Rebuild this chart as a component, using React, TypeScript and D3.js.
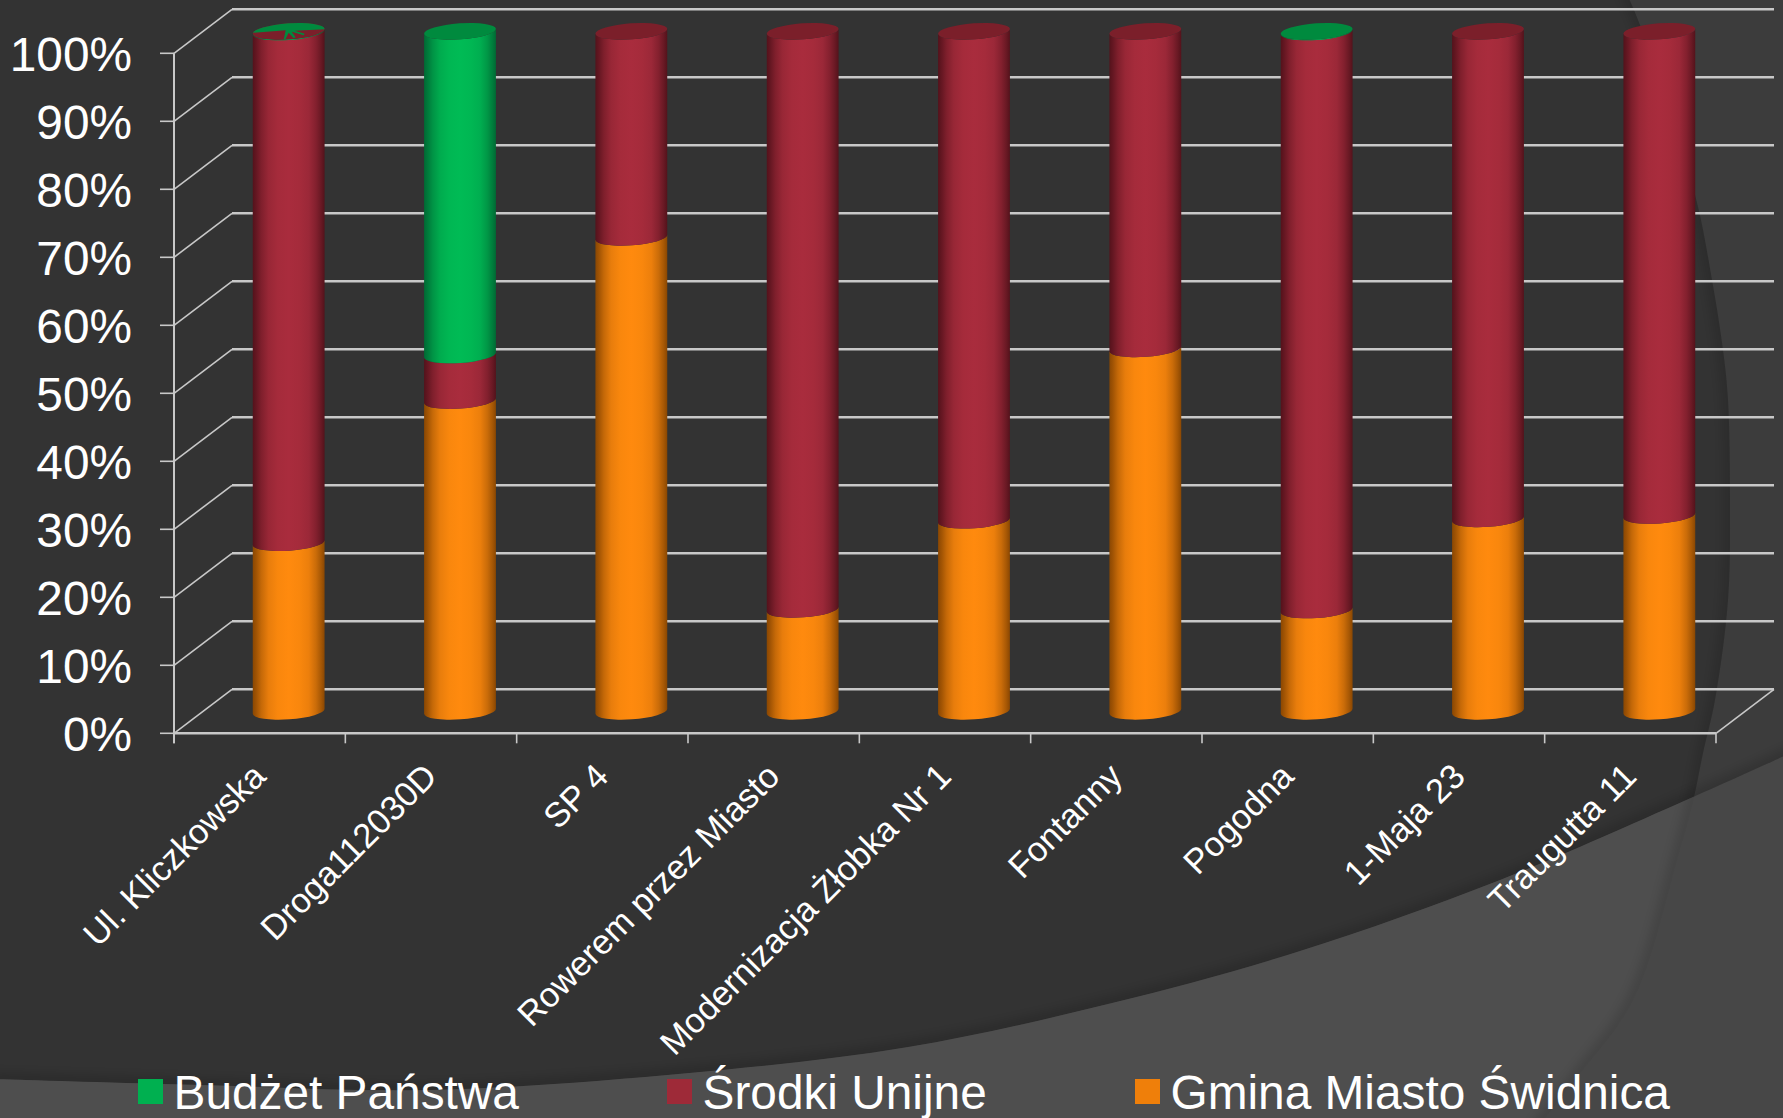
import React, { useEffect } from "react";
import * as d3 from "d3";

const categories = ["Ul. Kliczkowska", "Droga112030D", "SP 4", "Rowerem przez Miasto", "Modernizacja Żłobka Nr 1", "Fontanny", "Pogodna", "1-Maja 23", "Traugutta 11"];
const gminaMiasto = [24.8, 45.7, 69.7, 15, 28.1, 53.3, 14.9, 28.3, 28.8];
const srodkiUnijne = [75.1, 6.7, 30.3, 85, 71.9, 46.7, 85, 71.7, 71.2];
const budzetPanstwa = [0.1, 47.6, 0, 0, 0, 0, 0.1, 0, 0];
const yTicks = [0, 10, 20, 30, 40, 50, 60, 70, 80, 90, 100];
const seriesKeys = ["gmina", "unijne", "budzet"];
const legendLabels = ["Budżet Państwa", "Środki Unijne", "Gmina Miasto Świdnica"];

const W = 1783, H = 1118;
const FX0 = 174, FX1 = 1716, FY0 = 733.3, FY1 = 53.3;
const DX = 58, DY = -44;
const FONT = "'Liberation Sans', Arial, sans-serif";

const y = d3.scaleLinear().domain([0, 100]).range([FY0, FY1]);
const x = d3.scaleBand<string>().domain(categories).range([FX0, FX1]);
const barW = 72;
const RX = barW / 2, RY = 8, TILT = 4;
const tiltRad = (TILT * Math.PI) / 180;

const colors: Record<string, { dark: string; bright: string; top: string }> = {
  gmina: { dark: "#8a4702", bright: "#ff8a0e", top: "#c96f08" },
  unijne: { dark: "#54121b", bright: "#a92c3d", top: "#7b1f2a" },
  budzet: { dark: "#006a34", bright: "#00bb55", top: "#008a3e" },
};
const legendColors = ["#00b050", "#9e2a38", "#ef7f0a"];
// how far each position across the cylinder sits from the dark edge colour to the bright centre
const shadeStops: [number, number][] = [[0, 0], [0.05, 0.2], [0.12, 0.5], [0.22, 0.8], [0.35, 0.95], [0.5, 1], [0.65, 0.95], [0.78, 0.84], [0.88, 0.55], [0.95, 0.25], [1, 0]];

const rows = categories.map((c, i) => ({ c, gmina: gminaMiasto[i], unijne: srodkiUnijne[i], budzet: budzetPanstwa[i] }));
const stacked = d3.stack<any>().keys(seriesKeys)(rows);

const cx = (c: string) => x(c)! + x.bandwidth() / 2 + DX / 2;
const cy = (v: number) => y(v) + DY / 2;

function segment(c: string, v0: number, v1: number) {
  const X = cx(c), Y0 = cy(v0), Y1 = cy(v1);
  const ax = RX * Math.cos(tiltRad), ay = RX * Math.sin(tiltRad);
  return `M${X - ax},${Y0 + ay} A${RX},${RY} ${-TILT} 0 0 ${X + ax},${Y0 - ay} L${X + ax},${Y1 - ay} A${RX},${RY} ${-TILT} 0 1 ${X - ax},${Y1 + ay} Z`;
}

// decorative background outlines
const arcRight: [number, number][] = [[1625, -10], [1640, 25], [1695, 195], [1712, 280], [1723, 350], [1728, 400], [1730, 500], [1728, 600], [1715, 700], [1703, 753], [1694, 797], [1677, 860], [1633, 1000], [1577, 1077], [1535, 1130]];
const arcBottom: [number, number][] = [[-10, 1079], [200, 1085], [430, 1090], [689, 1073], [908, 1047], [1112, 1003], [1300, 951], [1500, 880], [1693, 797], [1793, 752]];
const line = d3.line().curve(d3.curveCatmullRom.alpha(0.5));
const rightD = line(arcRight)!;
const bottomD = line(arcBottom)!;
const leftOfRight = `${rightD} L-10,1130 L-10,-10 Z`;
const aboveBottom = `${bottomD} L1793,-10 L-10,-10 Z`;

const glint = (bx: number, by: number) =>
  `M${bx - 37},${by + 1.5} L${bx - 3},${by - 1} L${bx - 5},${by + 8.5} L${bx - 3.5},${by + 8.5} L${bx},${by + 1.5} L${bx + 5},${by + 7} L${bx + 7},${by + 6} L${bx + 3},${by + 0.5} L${bx + 15},${by + 4} L${bx + 16},${by + 2.5} L${bx + 6},${by - 0.5} L${bx + 36},${by - 2} L${bx + 40},${by - 14} L${bx - 40},${by - 14} Z`;

export default function App() {
  useEffect(() => {
    document.body.style.margin = "0";
    document.body.style.background = "#333";
  }, []);
  return (
    <svg width={W} height={H} viewBox={`0 0 ${W} ${H}`} style={{ display: "block" }} fontFamily={FONT}>
      <defs>
        {seriesKeys.map((k) => (
          <linearGradient key={k} id={`g-${k}`} x1="0" x2="1" y1="0" y2="0">
            {shadeStops.map(([o, t]) => (
              <stop key={o} offset={o} stopColor={d3.interpolateRgb(colors[k].dark, colors[k].bright)(t)} />
            ))}
          </linearGradient>
        ))}
        <filter id="soft" x="-20%" y="-20%" width="140%" height="140%">
          <feGaussianBlur stdDeviation="6" />
        </filter>
        <clipPath id="clipLeft"><path d={leftOfRight} /></clipPath>
        <clipPath id="clipAbove"><path d={aboveBottom} /></clipPath>
        <clipPath id="clipTop0">
          <ellipse cx={cx(categories[0])} cy={cy(100)} rx={RX} ry={RY} transform={`rotate(${-TILT} ${cx(categories[0])} ${cy(100)})`} />
        </clipPath>
      </defs>

      {/* slide background */}
      <rect x={0} y={0} width={W} height={H} fill="#3c3c3c" />
      <path d={`${bottomD} L1793,1130 L-10,1130 Z`} fill="#474747" />
      <path d={leftOfRight} fill="#333333" clipPath="url(#clipAbove)" />
      <g clipPath="url(#clipLeft)">
        <path d={`${bottomD} L1793,1130 L-10,1130 Z`} fill="#4e4e4e" />
        <path d={rightD} fill="none" stroke="#000" strokeOpacity={0.16} strokeWidth={12} filter="url(#soft)" />
      </g>
      <g clipPath="url(#clipAbove)">
        <path d={bottomD} fill="none" stroke="#000" strokeOpacity={0.18} strokeWidth={12} filter="url(#soft)" />
      </g>

      {/* gridlines, walls */}
      <g fill="none" stroke="#c8c8c8">
        {yTicks.map((t) => (
          <g key={t}>
            <line x1={FX0 + DX} x2={FX1 + DX} y1={y(t) + DY} y2={y(t) + DY} strokeWidth={2.4} />
            <line x1={FX0} x2={FX0 + DX} y1={y(t)} y2={y(t) + DY} strokeWidth={1.6} />
            <line x1={FX0 - 14} x2={FX0} y1={y(t)} y2={y(t)} strokeWidth={1.6} />
          </g>
        ))}
        <line x1={FX0} x2={FX0} y1={FY1} y2={FY0 + 10} strokeWidth={2} />
        <line x1={FX0} x2={FX1} y1={FY0} y2={FY0} strokeWidth={2.4} />
        <line x1={FX1} x2={FX1 + DX} y1={FY0} y2={FY0 + DY} strokeWidth={1.6} />
        {[...categories.map((c) => x(c)! + x.bandwidth()), FX0].map((tx) => (
          <line key={tx} x1={tx} x2={tx} y1={FY0} y2={FY0 + 10} strokeWidth={1.6} />
        ))}
      </g>

      {/* cylinders */}
      {categories.map((c, i) => {
        const visible = stacked.filter((s) => s[i][1] - s[i][0] > 0);
        const last = visible[visible.length - 1];
        const topKey = last.key;
        const X = cx(c), Y = cy(100);
        return (
          <g key={c}>
            {visible.map((s) => (
              <path key={s.key} d={segment(c, s[i][0], s[i][1])} fill={`url(#g-${s.key})`} />
            ))}
            <ellipse cx={X} cy={Y} rx={RX} ry={RY} fill={i === 0 ? colors.unijne.top : colors[topKey].top} transform={`rotate(${-TILT} ${X} ${Y})`} />
            {i === 0 && <path d={glint(X, Y)} fill={colors.budzet.top} clipPath="url(#clipTop0)" />}
          </g>
        );
      })}

      {/* axis labels */}
      <g fill="#ffffff">
        {yTicks.map((t) => (
          <text key={t} x={132} y={y(t) + 18} textAnchor="end" fontSize={47.8}>{`${t}%`}</text>
        ))}
        {categories.map((c) => {
          const tx = x(c)! + x.bandwidth() / 2 + 8;
          const ty = FY0 + 45;
          return (
            <text key={c} transform={`translate(${tx},${ty}) rotate(-45)`} textAnchor="end" fontSize={34.6}>{c}</text>
          );
        })}
      </g>

      {/* legend */}
      <g fill="#ffffff">
        {legendLabels.map((l, i) => {
          const lx = [138, 667, 1135][i];
          return (
            <g key={l}>
              <rect x={lx} y={1079} width={25} height={25} fill={legendColors[i]} />
              <text x={lx + 35.5} y={1109} fontSize={47.8}>{l}</text>
            </g>
          );
        })}
      </g>
    </svg>
  );
}
